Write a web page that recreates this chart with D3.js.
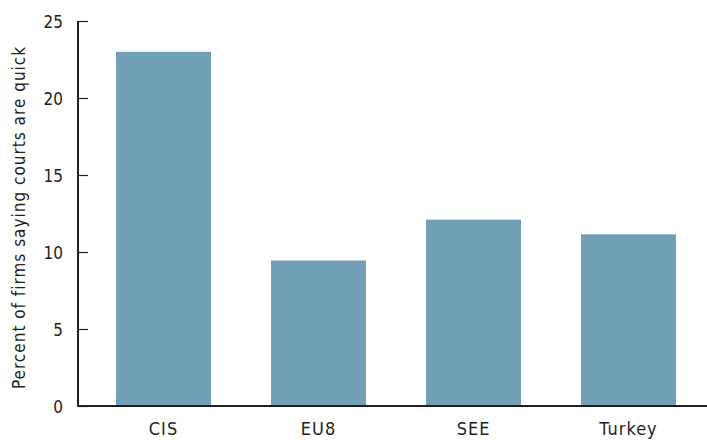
<!DOCTYPE html>
<html>
<head>
<meta charset="utf-8">
<script src="https://cdn.jsdelivr.net/npm/d3@7"></script>
<style>
  html, body { margin: 0; padding: 0; background: #fff; }
  svg text { font-family: "DejaVu Sans Condensed", "DejaVu Sans", sans-serif; font-stretch: condensed; fill: #231f20; }
</style>
</head>
<body>
<svg id="chart" width="707" height="440"></svg>
<script>
const categories = ["CIS", "EU8", "SEE", "Turkey"];
const values = [23.0, 9.45, 12.1, 11.15];
const yTicks = [0, 5, 10, 15, 20, 25];
const yLabel = "Percent of firms saying courts are quick";

const svg = d3.select("#chart");
const x0 = 78, yBase = 406, yTop = 21;

const x = d3.scaleBand().domain(categories).range([x0, 714])
  .paddingInner(0.387).paddingOuter(0.245);
const y = d3.scaleLinear().domain([0, 25]).range([yBase, yTop]);

svg.selectAll("rect.bar").data(categories).enter().append("rect")
  .attr("class", "bar")
  .attr("x", d => x(d))
  .attr("width", x.bandwidth())
  .attr("y", (d, i) => y(values[i]))
  .attr("height", (d, i) => y(0) - y(values[i]))
  .attr("fill", "#729fb8");

// y axis
const yAxis = svg.append("g").attr("transform", `translate(${x0},0)`)
  .call(d3.axisRight(y).tickValues(yTicks).tickSize(10).tickFormat(d3.format("d")));
yAxis.select(".domain").remove();
yAxis.selectAll(".tick line").attr("stroke", "#231f20").attr("stroke-width", 1.2);
yAxis.selectAll(".tick text").attr("x", -15).attr("text-anchor", "end")
  .attr("dy", "0.36em").style("font-size", "17px");
svg.append("line").attr("x1", x0).attr("x2", x0).attr("y1", y(25)).attr("y2", yBase + 1)
  .attr("stroke", "#231f20").attr("stroke-width", 2);

// x axis
const xAxis = svg.append("g").attr("transform", `translate(0,${yBase})`)
  .call(d3.axisBottom(x).tickSize(0).tickPadding(16));
xAxis.select(".domain").remove();
xAxis.selectAll(".tick text").style("font-size", "18px").style("letter-spacing", "1px")
  .attr("dy", "0.71em");
svg.append("line").attr("x1", x0 - 1).attr("x2", 707).attr("y1", yBase).attr("y2", yBase)
  .attr("stroke", "#231f20").attr("stroke-width", 2);

svg.append("text")
  .attr("transform", `translate(25,${(48 + 387) / 2}) rotate(-90)`)
  .attr("text-anchor", "middle")
  .style("font-size", "17px")
  .style("letter-spacing", "1px")
  .text(yLabel);
</script>
</body>
</html>
